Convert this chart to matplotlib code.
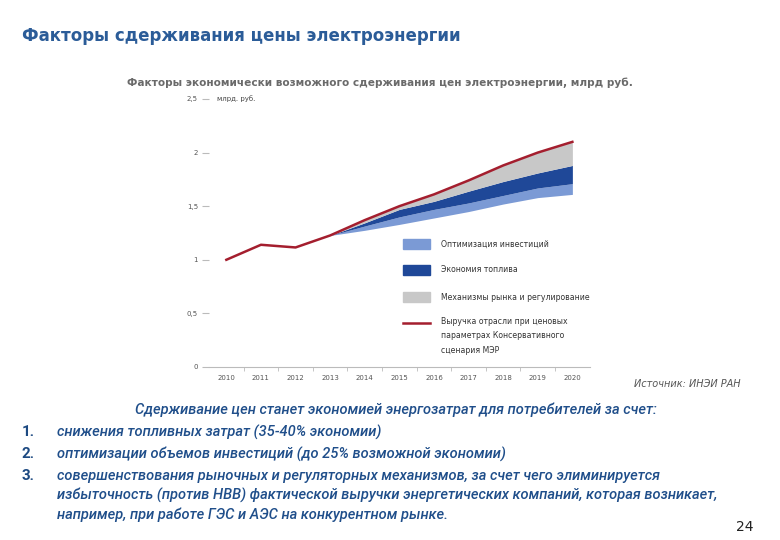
import numpy as np
import matplotlib.pyplot as plt
from matplotlib.patches import Rectangle

# Data
years = [2010, 2011, 2012, 2013, 2014, 2015, 2016, 2017, 2018, 2019, 2020]
revenue = [1.00, 1.14, 1.115, 1.227, 1.37, 1.50, 1.61, 1.74, 1.88, 2.00, 2.10]

fc_years = [2013, 2014, 2015, 2016, 2017, 2018, 2019, 2020]
base = [1.227, 1.275, 1.33, 1.39, 1.45, 1.52, 1.58, 1.61]
opt_invest = [0.0, 0.04, 0.07, 0.08, 0.08, 0.08, 0.09, 0.10]
fuel_saving = [0.0, 0.03, 0.07, 0.075, 0.11, 0.13, 0.14, 0.17]
market_reg = [0.0, 0.025, 0.03, 0.065, 0.10, 0.15, 0.19, 0.22]

yticks = [0, 0.5, 1, 1.5, 2, 2.5]
ytick_labels = ["0", "0,5", "1", "1,5", "2", "2,5"]

c_light = "#7b9ad5"
c_dark = "#1f4898"
c_grey = "#c8c8c8"
c_red = "#a41e2e"
c_title = "#2b5c98"
c_text = "#1f4e8a"

plt.rcParams['font.family'] = ['DejaVu Sans']

fig = plt.figure(figsize=(7.8, 5.4), dpi=100)
ax = fig.add_axes([0.268, 0.3204, 0.488, 0.4963])

b = np.array(base)
l1 = b + np.array(opt_invest)
l2 = l1 + np.array(fuel_saving)
l3 = l2 + np.array(market_reg)
ax.fill_between(fc_years, b, l1, color=c_light, lw=0)
ax.fill_between(fc_years, l1, l2, color=c_dark, lw=0)
ax.fill_between(fc_years, l2, l3, color=c_grey, lw=0)
ax.plot(years, revenue, color=c_red, lw=1.8)

ax.set_xlim(2009.5, 2020.5)
ax.set_ylim(0, 2.5)
ax.set_xticks(years)
ax.set_xticklabels([str(y) for y in years], fontsize=5, color="#555555")
ax.set_xticks(np.arange(2010.5, 2020.5, 1), minor=True)
ax.tick_params(axis='x', which='major', length=0, pad=6)
ax.tick_params(axis='x', which='minor', length=3, color="#bbbbbb", direction='out')
ax.set_yticks(yticks)
ax.set_yticklabels(ytick_labels, fontsize=5, color="#555555")
ax.tick_params(axis='y', length=5, color="#bbbbbb", pad=3)
for s in ['top', 'right', 'left']:
    ax.spines[s].set_visible(False)
ax.spines['bottom'].set_color("#bbbbbb")
ax.spines['bottom'].set_linewidth(0.8)
ax.text(0.02, 1.0, "млрд. руб.", transform=ax.transAxes, fontsize=5,
        color="#444444", va='center', ha='left')

# legend, drawn by hand so the line key sits on the first text line
leg_labels = ["Оптимизация инвестиций", "Экономия топлива",
              "Механизмы рынка и регулирование"]
leg_colors = [c_light, c_dark, c_grey]
leg_y = [0.459, 0.362, 0.261]
for lab, col, yy in zip(leg_labels, leg_colors, leg_y):
    ax.add_patch(Rectangle((0.510, yy - 0.019), 0.071, 0.038, color=col,
                           transform=ax.transAxes, clip_on=False))
    ax.text(0.610, yy, lab, transform=ax.transAxes, fontsize=5.6,
            color="#333333", va='center', ha='left')
ax.plot([0.510, 0.581], [0.164, 0.164], color=c_red, lw=1.8,
        transform=ax.transAxes, clip_on=False)
ax.text(0.610, 0.116, "Выручка отрасли при ценовых\nпараметрах Консервативного\nсценария МЭР",
        transform=ax.transAxes, fontsize=5.6, color="#333333", va='center',
        ha='left', linespacing=1.75)

fig.text(0.028, 0.933, "Факторы сдерживания цены электроэнергии", fontsize=12,
         fontweight='bold', color=c_title, ha='left', va='center')
fig.text(0.487, 0.846, "Факторы экономически возможного сдерживания цен электроэнергии, млрд руб.",
         fontsize=7.6, fontweight='bold', color="#6a6a6a", ha='center', va='center')
fig.text(0.949, 0.289, "Источник: ИНЭИ РАН", fontsize=7, style='italic',
         color="#555555", ha='right', va='center')

body = dict(fontsize=10.5, style='italic', color=c_text, family='Roboto',
            fontweight='medium', va='center')
fig.text(0.507, 0.241, "Сдерживание цен станет экономией энергозатрат для потребителей за счет:",
         ha='center', **body)
items = ["снижения топливных затрат (35-40% экономии)",
         "оптимизации объемов инвестиций (до 25% возможной экономии)",
         "совершенствования рыночных и регуляторных механизмов, за счет чего элиминируется"]
ys = [0.200, 0.159, 0.118]
for i, (t, yy) in enumerate(zip(items, ys)):
    fig.text(0.028, yy, f"{i + 1}.", ha='left', fontsize=11, fontweight='bold',
             color="#1d4a82", family='Roboto', va='center')
    fig.text(0.073, yy, t, ha='left', **body)
fig.text(0.073, 0.082, "избыточность (против НВВ) фактической выручки энергетических компаний, которая возникает,",
         ha='left', **body)
fig.text(0.073, 0.046, "например, при работе ГЭС и АЭС на конкурентном рынке.", ha='left', **body)
fig.text(0.955, 0.024, "24", fontsize=10, color="#222222", ha='center', va='center')

fig.savefig("out.png", dpi=100)
